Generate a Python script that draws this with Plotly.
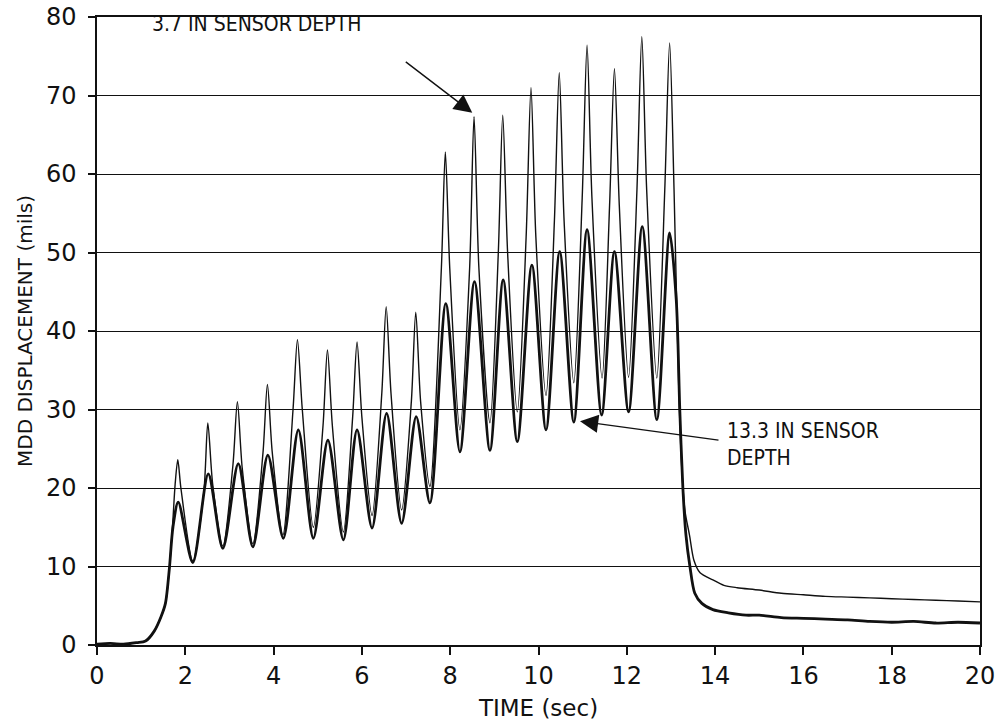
import plotly.graph_objects as go

# ---- data (time in sec, displacement in mils) ----
t_13 = [0.00, 0.30, 0.60, 0.90, 1.10, 1.30, 1.45, 1.55, 1.64, 1.72, 1.84,
        2.17, 2.52, 2.85, 3.20, 3.53, 3.87, 4.22, 4.56, 4.90, 5.23, 5.58,
        5.89, 6.23, 6.56, 6.90, 7.23, 7.54, 7.90, 8.22, 8.55, 8.90, 9.20,
        9.52, 9.85, 10.17, 10.48, 10.80, 11.10, 11.43, 11.72, 12.04, 12.35,
        12.68, 12.97, 13.12, 13.20, 13.27, 13.34, 13.43, 13.54, 13.70, 13.95,
        14.3, 14.7, 15.0, 15.5, 16.0, 16.5, 17.0, 17.5, 18.0, 18.5, 19.0,
        19.5, 20.0]
d_13 = [0.1, 0.2, 0.1, 0.3, 0.5, 1.8, 3.6, 5.3, 9.8, 15.0, 18.2,
        10.5, 21.8, 12.3, 23.1, 12.5, 24.2, 13.6, 27.4, 13.6, 26.1, 13.4,
        27.4, 14.9, 29.5, 15.5, 29.1, 18.1, 43.5, 24.6, 46.3, 24.8, 46.5,
        25.9, 48.4, 27.4, 50.1, 28.4, 52.9, 29.3, 50.1, 29.7, 53.3,
        28.7, 52.5, 44.0, 30.0, 20.0, 14.0, 10.0, 6.6, 5.3, 4.5,
        4.1, 3.8, 3.8, 3.5, 3.4, 3.3, 3.2, 3.0, 2.9, 3.0, 2.8,
        2.9, 2.8]

t_37 = [0.00, 0.30, 0.60, 0.90, 1.10, 1.30, 1.45, 1.55, 1.64, 1.72, 1.77,
        1.83, 1.90, 2.17, 2.42, 2.51, 2.62, 2.85, 3.08, 3.18, 3.29, 3.53,
        3.76, 3.86, 3.97, 4.21, 4.44, 4.54, 4.65, 4.90, 5.12, 5.22, 5.33,
        5.58, 5.79, 5.89, 6.00, 6.23, 6.45, 6.55, 6.66, 6.90, 7.12, 7.22,
        7.33, 7.54, 7.80, 7.89, 7.99, 8.22, 8.44, 8.54, 8.65, 8.90, 9.09,
        9.19, 9.30, 9.52, 9.72, 9.83, 9.94, 10.17, 10.36, 10.47, 10.58,
        10.80, 10.99, 11.10, 11.21, 11.44, 11.61, 11.72, 11.83, 12.04, 12.23,
        12.34, 12.45, 12.68, 12.86, 12.97, 13.07, 13.18, 13.25, 13.32, 13.42,
        13.52, 13.66, 13.95, 14.2, 14.5, 15.0, 15.5, 16.0, 16.5, 17.0, 17.5,
        18.0, 18.5, 19.0, 19.5, 20.0]
d_37 = [0.1, 0.2, 0.1, 0.3, 0.5, 1.8, 3.6, 5.3, 9.8, 16.0, 20.5,
        23.6, 20.0, 10.7, 19.5, 28.3, 20.5, 12.6, 23.0, 31.0, 22.5, 12.9,
        24.5, 33.2, 24.5, 14.0, 30.0, 38.9, 30.0, 15.0, 28.0, 37.6, 28.0,
        14.4, 29.0, 38.6, 29.0, 16.5, 32.0, 43.1, 32.0, 17.2, 31.0, 42.4,
        31.0, 20.2, 48.0, 62.8, 48.0, 27.4, 48.0, 67.3, 48.0, 28.3, 50.0,
        67.5, 50.0, 29.7, 52.0, 71.0, 52.0, 31.8, 54.0, 72.9, 54.0,
        33.4, 57.0, 76.4, 57.0, 34.0, 56.0, 73.4, 56.0, 34.1, 58.0,
        77.5, 58.0, 34.0, 58.0, 76.7, 58.0, 32.0, 22.0, 17.0, 14.0,
        10.8, 9.2, 8.3, 7.6, 7.3, 7.0, 6.6, 6.4, 6.2, 6.1, 6.0,
        5.9, 5.8, 5.7, 5.6, 5.5]

x_ticks = [0, 2, 4, 6, 8, 10, 12, 14, 16, 18, 20]
y_ticks = [0, 10, 20, 30, 40, 50, 60, 70, 80]

INK = "#111111"
FONT = "DejaVu Sans"

fig = go.Figure()
fig.add_trace(go.Scatter(x=t_13, y=d_13, mode="lines", name="13.3 IN SENSOR DEPTH",
                         line=dict(color=INK, width=2.8, shape="spline", smoothing=0.8)))
fig.add_trace(go.Scatter(x=t_37, y=d_37, mode="lines", name="3.7 IN SENSOR DEPTH",
                         line=dict(color=INK, width=1.4, shape="spline", smoothing=0.8)))

fig.update_layout(
    width=998, height=725,
    margin=dict(l=97, r=18, t=17, b=80, autoexpand=False),
    paper_bgcolor="white", plot_bgcolor="white",
    showlegend=False,
    font=dict(family=FONT, color=INK),
    xaxis=dict(range=[0, 20], tickvals=x_ticks, ticktext=[str(v) for v in x_ticks],
               automargin=False, ticklabeloverflow="allow",
               ticks="outside", ticklen=8, tickwidth=1.5, tickcolor=INK,
               showline=True, linecolor=INK, linewidth=1.5, mirror=True,
               showgrid=False, zeroline=False,
               tickfont=dict(family=FONT, size=24, color=INK),
               title=dict(text="TIME (sec)", font=dict(family=FONT, size=23, color=INK),
                          standoff=11)),
    yaxis=dict(range=[0, 80], tickvals=y_ticks, ticktext=[str(v) for v in y_ticks],
               automargin=False, ticklabelstandoff=7, ticklabeloverflow="allow",
               ticks="outside", ticklen=7, tickwidth=1.5, tickcolor=INK,
               showline=True, linecolor=INK, linewidth=1.5, mirror=True,
               showgrid=True, gridcolor=INK, gridwidth=1.4, zeroline=False,
               tickfont=dict(family=FONT, size=24, color=INK),
               title=dict(text="MDD DISPLACEMENT (mils)",
                          font=dict(family=FONT, size=20, color=INK), standoff=8)),
)

ANN_FONT = dict(family="DejaVu Sans Condensed", size=21, color=INK)
fig.add_annotation(x=3.61, y=79.1, xref="x", yref="y", text="3.7 IN SENSOR DEPTH",
                   showarrow=False, font=ANN_FONT, xanchor="center", yanchor="middle")
fig.add_annotation(x=8.50, y=67.8, xref="x", yref="y", text="", showarrow=True,
                   ax=-68, ay=-52, arrowhead=2, arrowsize=2.6, arrowwidth=1.4,
                   arrowcolor=INK)
fig.add_annotation(x=14.22, y=25.5, xref="x", yref="y",
                   text="13.3 IN SENSOR<br>DEPTH", showarrow=False, font=ANN_FONT,
                   xanchor="left", yanchor="middle", align="left")
fig.add_annotation(x=10.94, y=28.5, xref="x", yref="y", text="", showarrow=True,
                   ax=140, ay=19, arrowhead=2, arrowsize=2.6, arrowwidth=1.4,
                   arrowcolor=INK)

# remove the browser's default 8px body margin so the figure fills the window
fig.write_html("out.html",
               config={"displayModeBar": False},
               post_script="document.body.style.margin='0';document.body.style.overflow='hidden';")
